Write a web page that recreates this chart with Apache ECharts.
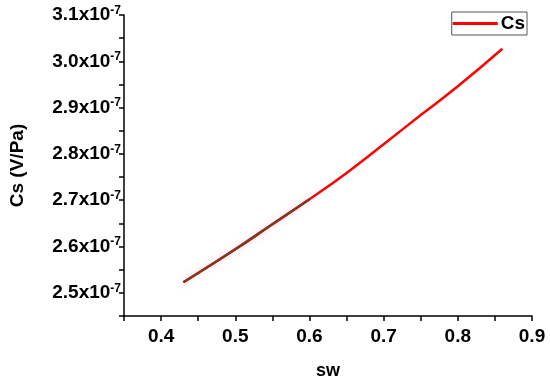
<!DOCTYPE html>
<html>
<head>
<meta charset="utf-8">
<script src="https://cdn.jsdelivr.net/npm/echarts@6/dist/echarts.min.js"></script>
<style>html,body{margin:0;padding:0;background:#fff}#c{width:550px;height:385px}</style>
</head>
<body>
<div id="c"></div>
<script>
// sw values (x) and Cs values in units of 1e-7 V/Pa
var sw = [0.43, 0.45, 0.50, 0.55, 0.60, 0.65, 0.70, 0.75, 0.80, 0.86];
var csE7 = [2.523, 2.543, 2.594, 2.648, 2.702, 2.759, 2.821, 2.884, 2.946, 3.027];
// part of the curve drawn in a darker tone in the original (sw <= 0.60)
var darkUntil = 0.60;
var xTicks = [0.4, 0.5, 0.6, 0.7, 0.8, 0.9];
var yTicks = [2.5, 2.6, 2.7, 2.8, 2.9, 3.0, 3.1];

var pts = sw.map(function (x, i) { return [x, csE7[i]]; });
var darkPts = pts.filter(function (p) { return p[0] <= darkUntil + 1e-9; });

function isIn(list, v) {
  for (var i = 0; i < list.length; i++) if (Math.abs(list[i] - v) < 1e-6) return true;
  return false;
}
var font = '"Liberation Sans", Arial, sans-serif';
var chart = echarts.init(document.getElementById('c'));
chart.setOption({
  animation: false,
  backgroundColor: '#fff',
  grid: { left: 123, right: 18, top: 15, bottom: 64 },
  legend: {
    data: [{ name: 'Cs', icon: 'rect' }],
    right: 23, top: 12,
    itemWidth: 45, itemHeight: 3,
    borderColor: '#555', borderWidth: 1,
    padding: [2, 2, 2, 1],
    itemGap: 4,
    textStyle: { fontFamily: font, fontWeight: 'bold', fontSize: 19, color: '#000', padding: [0, 0, 0, -2] }
  },
  xAxis: {
    type: 'value', min: 0.35, max: 0.9, interval: 0.05,
    name: 'sw', nameLocation: 'middle', nameGap: 46,
    nameTextStyle: { fontFamily: font, fontWeight: 'bold', fontSize: 18, color: '#000' },
    axisLine: { show: true, onZero: false, lineStyle: { color: '#000', width: 1.5 } },
    axisTick: { show: true, inside: false, length: 5, lineStyle: { color: '#000', width: 1.5 } },
    splitLine: { show: false },
    axisLabel: {
      margin: 11, fontFamily: font, fontWeight: 'bold', fontSize: 19, color: '#000',
      showMinLabel: true, showMaxLabel: true,
      formatter: function (v) { return isIn(xTicks, v) ? v.toFixed(1) : ''; }
    }
  },
  yAxis: {
    type: 'value', min: 2.45, max: 3.1, interval: 0.05,
    name: 'Cs (V/Pa)', nameLocation: 'middle', nameGap: 97, nameRotate: 90,
    nameTextStyle: { fontFamily: font, fontWeight: 'bold', fontSize: 19, color: '#000' },
    axisLine: { show: true, onZero: false, lineStyle: { color: '#000', width: 1.5 } },
    axisTick: { show: true, inside: false, length: 5, lineStyle: { color: '#000', width: 1.5 } },
    splitLine: { show: false },
    axisLabel: {
      margin: 3, color: '#000',
      formatter: function (v) { return isIn(yTicks, v) ? '{a|' + v.toFixed(1) + 'x10}{b|-7}' : ''; },
      rich: {
        a: { fontFamily: font, fontWeight: 'bold', fontSize: 19, color: '#000' },
        b: { fontFamily: font, fontWeight: 'bold', fontSize: 12, color: '#000', verticalAlign: 'top', padding: [0, 0, 9, 0] }
      }
    }
  },
  series: [
    { name: 'Cs', type: 'line', data: pts, smooth: true, symbol: 'none',
      lineStyle: { color: '#ff0000', width: 2.5 }, itemStyle: { color: '#ff0000' } },
    { name: 'dark', type: 'line', data: darkPts, smooth: true, symbol: 'none', silent: true,
      lineStyle: { color: '#7d3a1c', width: 2.5, shadowColor: 'rgba(255,150,230,0.5)', shadowBlur: 6 } }
  ]
});
</script>
</body>
</html>
